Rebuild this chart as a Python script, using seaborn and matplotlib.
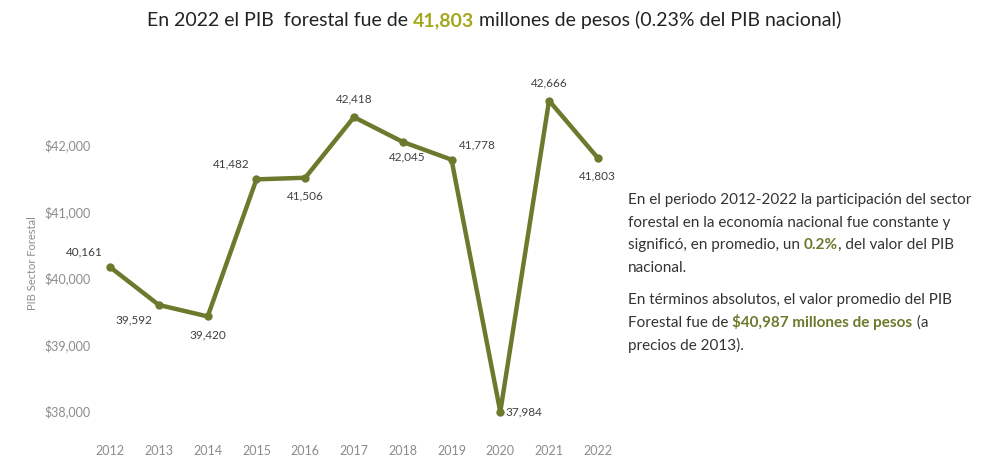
import matplotlib
matplotlib.use("Agg")
import matplotlib.pyplot as plt
import seaborn as sns
import pandas as pd

years = [2012, 2013, 2014, 2015, 2016, 2017, 2018, 2019, 2020, 2021, 2022]
pib = [40161, 39592, 39420, 41482, 41506, 42418, 42045, 41778, 37984, 42666, 41803]
# label offsets (points) per year
label_pos = ["above_left", "below_left", "below", "above_left", "below", "above",
             "below_right", "above_right", "right", "above", "below"]

GREEN = "#6b7a2c"
GREY = "#8c8c8c"
plt.rcParams["font.family"] = "Lato"

fig = plt.figure(figsize=(9.94, 4.62), dpi=100)
ax = fig.add_axes([0.0956, 0.048, 0.523, 0.766])
df = pd.DataFrame({"year": years, "pib": pib})
sns.lineplot(data=df, x="year", y="pib", color=GREEN, lw=3.2, marker="o",
             markersize=6, markeredgewidth=0, ax=ax)
ax.set_xlim(2011.69, 2022.35)
ax.set_ylim(37564, 42887)
ax.set_xticks(years)
ax.set_yticks([38000, 39000, 40000, 41000, 42000])
ax.set_yticklabels([f"${v:,}" for v in [38000, 39000, 40000, 41000, 42000]])
ax.tick_params(colors=GREY, labelsize=9, length=0)
ax.set_xlabel("")
ax.set_ylabel("PIB Sector Forestal", color=GREY, fontsize=8)
for s in ax.spines.values():
    s.set_visible(False)

offsets = {"above": (0, 9, "center", "bottom"), "below": (0, -9, "center", "top"),
           "above_left": (-5, 7, "right", "bottom"), "below_left": (-5, -7, "right", "top"),
           "above_right": (5, 7, "left", "bottom"), "below_right": (3, -7, "center", "top"),
           "right": (4, 0, "left", "center")}
for x, y, p in zip(years, pib, label_pos):
    dx, dy, ha, va = offsets[p]
    ax.annotate(f"{y:,}", (x, y), xytext=(dx, dy), textcoords="offset points",
                ha=ha, va=va, fontsize=8.5, color="#404040")

# title with highlighted value
t1 = fig.text(0.148, 0.955, "En 2022 el PIB  forestal fue de ", fontsize=14, color="#222222", va="center")
t2 = ax.annotate("41,803", xy=(1, 0), xycoords=t1, va="bottom", fontsize=14,
                 color="#a3a81c", fontweight="bold", annotation_clip=False)
ax.annotate(" millones de pesos (0.23% del PIB nacional)", xy=(1, 0), xycoords=t2,
            va="bottom", fontsize=14, color="#222222", annotation_clip=False)

# side commentary
lines = [
    [("En el periodo 2012-2022 la participación del sector", False)],
    [("forestal en la economía nacional fue constante y", False)],
    [("significó, en promedio, un ", False), ("0.2%", True), (", del valor del PIB", False)],
    [("nacional.", False)],
    None,
    [("En términos absolutos, el valor promedio del PIB", False)],
    [("Forestal fue de ", False), ("$40,987 millones de pesos", True), (" (a", False)],
    [("precios de 2013).", False)],
]
y = 0.567
for line in lines:
    if line is None:
        y -= 0.021
        continue
    prev = None
    for txt, bold in line:
        kw = dict(fontsize=11, color=GREEN if bold else "#333333",
                  fontweight="bold" if bold else "normal", va="center")
        if prev is None:
            prev = fig.text(0.632, y, txt, **kw)
        else:
            kw["va"] = "bottom"
            prev = ax.annotate(txt, xy=(1, 0), xycoords=prev, annotation_clip=False, **kw)
    y -= 0.049

fig.savefig("out.png", dpi=100)
